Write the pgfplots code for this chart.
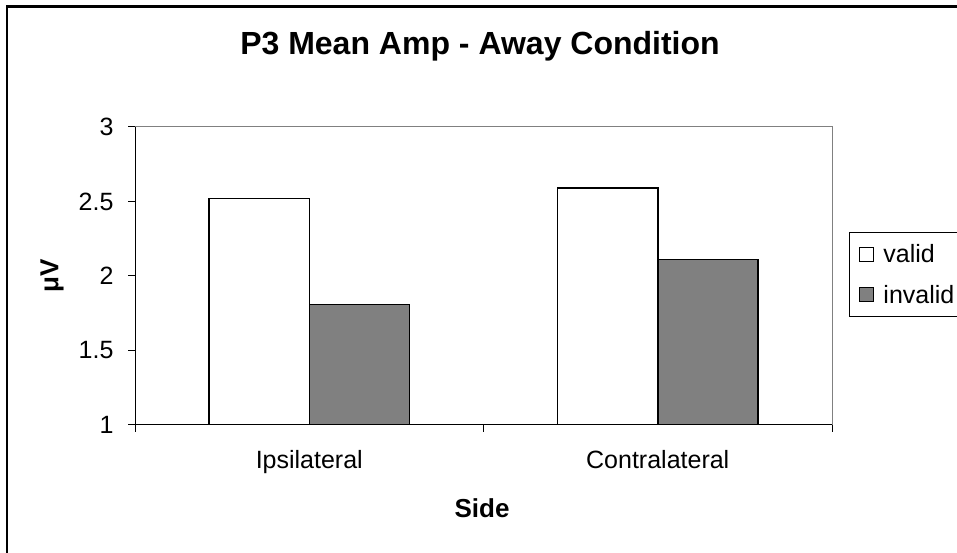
\documentclass[border=0pt]{standalone}
\usepackage{fontspec}
\setmainfont{Liberation Sans}
\usepackage{pgfplots}
\pgfplotsset{compat=1.18}
\definecolor{bargray}{HTML}{808080}
\begin{document}
\begin{tikzpicture}[x=1pt,y=1pt]
\useasboundingbox (0,0) rectangle (957,553);
\draw[line width=2.5pt] (7,-5) -- (7,546.5) -- (990,546.5);
\node[font=\fontsize{32}{38}\selectfont\bfseries] at (480,507) {P3 Mean Amp - Away Condition};
\node[font=\fontsize{26}{31}\selectfont\bfseries] at (482,45) {Side};
\node[font=\fontsize{26}{31}\selectfont\bfseries, rotate=90] at (52,277) {μV};
\begin{axis}[
  at={(135pt,128pt)}, anchor=south west,
  scale only axis, width=697pt, height=298pt,
  xmin=0, xmax=2, ymin=1, ymax=3,
  axis x line*=bottom, axis y line*=left,
  axis line style={-, black, line width=1pt},
  tick align=outside, major tick length=7pt,
  tick style={black, line width=1pt},
  ytick={1,1.5,2,2.5,3},
  xtick={0,1,2}, xticklabels={},
  extra x ticks={0.5,1.5},
  extra x tick labels={Ipsilateral,Contralateral},
  extra x tick style={major tick length=0pt, xticklabel style={yshift=-22pt}},
  /pgf/number format/assume math mode=true,
  ticklabel style={font=\fontsize{25}{30}\selectfont},
  yticklabel style={xshift=-11pt},
  legend style={at={(1.024,0.648)}, anchor=north west, draw=black, line width=1pt,
    font=\fontsize{25}{30}\selectfont, row sep=17pt, inner xsep=10pt, inner ysep=10pt},
  legend cell align=left,
  legend image code/.code={\draw[#1, line width=1pt] (0pt,-7pt) rectangle (14pt,7pt); \path (21pt,0pt);},
  after end axis/.code={\draw[bargray, line width=1pt] (rel axis cs:0,1) -- (rel axis cs:1,1) -- (rel axis cs:1,0);},
]
\addplot[ybar, bar width=0.287, bar shift=-0.1435, fill=white, draw=black, line width=1.5pt]
  coordinates {(0.5,2.52) (1.5,2.59)};
\addlegendentry{valid}
\addplot[ybar, bar width=0.287, bar shift=0.1435, fill=bargray, draw=black, line width=1.5pt]
  coordinates {(0.5,1.81) (1.5,2.11)};
\addlegendentry{invalid\hspace*{12pt}}
\end{axis}
\end{tikzpicture}
\end{document}
